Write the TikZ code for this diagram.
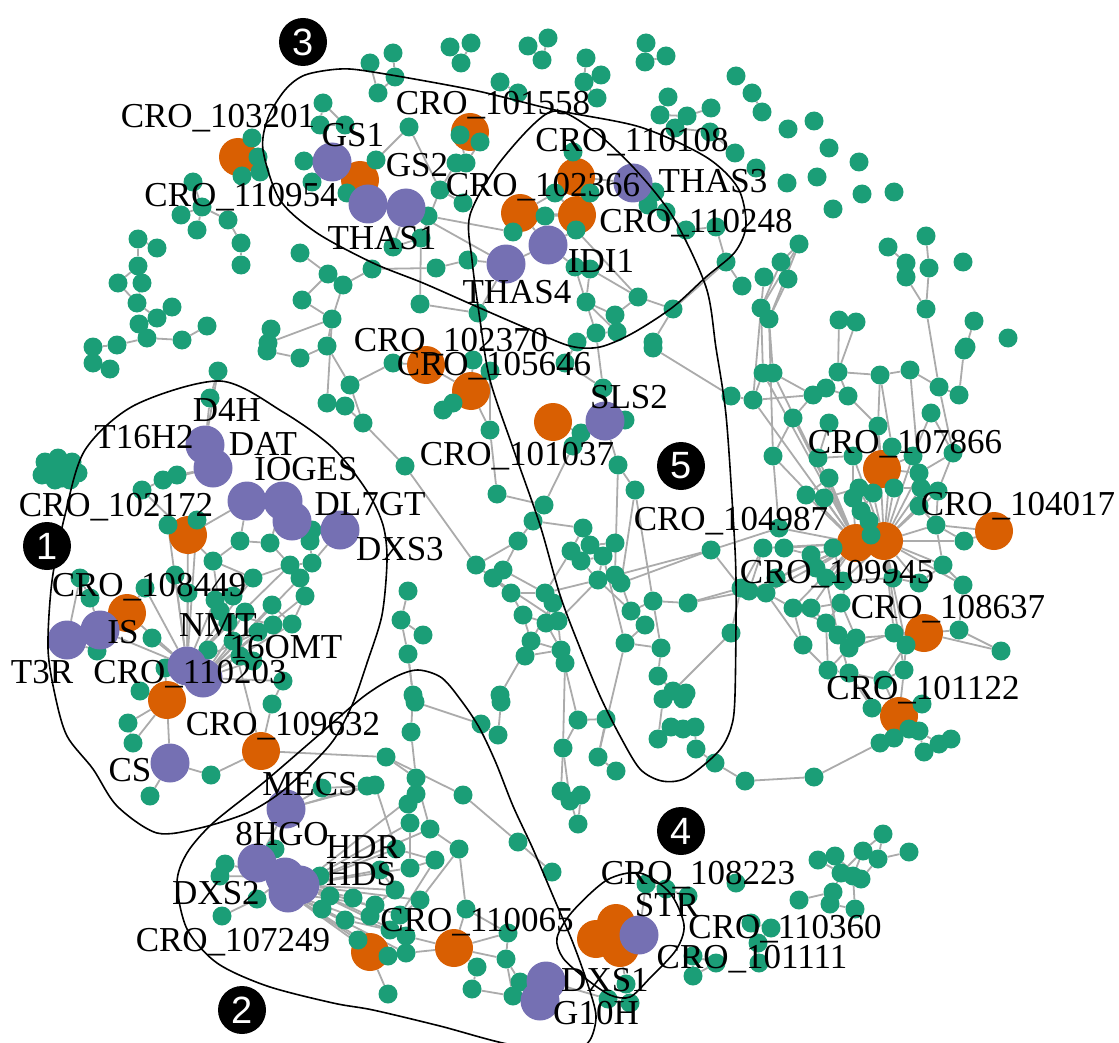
\documentclass[tikz,border=0pt]{standalone}
\usepackage{fontspec}
\setmainfont{Liberation Serif}
\newfontfamily\badgefont{Liberation Sans}
\definecolor{cgrn}{HTML}{1B9E77}
\definecolor{corg}{HTML}{D95F02}
\definecolor{cpur}{HTML}{7570B3}
\definecolor{cedg}{HTML}{ABABAB}
\pgfdeclarelayer{bg}
\pgfsetlayers{bg,main}
\begin{document}
\begin{tikzpicture}[x=1pt,y=-1pt,
 gnode/.style={circle,fill=cgrn,minimum size=19pt,inner sep=0pt},
 onode/.style={circle,fill=corg,minimum size=38pt,inner sep=0pt},
 pnode/.style={circle,fill=cpur,minimum size=39pt,inner sep=0pt},
 lnk/.style={draw=cedg,line width=1.8pt},
 hull/.style={draw=black,line width=1.6pt},
 lab/.style={font=\fontsize{35}{40}\selectfont,anchor=base,inner sep=0pt},
 badge/.style={circle,fill=black,minimum size=48pt,inner sep=0pt,text=white,font=\badgefont\fontsize{38}{38}\selectfont}]
\useasboundingbox (0,0) rectangle (1119,1043);
\def\greenlist{1/370/63, 2/378/93, 3/323/103, 4/320/125, 5/345/125, 6/252/138, 7/258/157, 8/260/172, 9/242/176, 10/304/161, 11/312/182, 12/347/193, 13/193/182, 14/202/207, 15/181/215, 16/197/230, 17/228/220, 18/241/243, 19/241/265, 20/138/239, 21/157/248, 22/138/266, 23/118/283, 24/142/283, 25/137/303, 26/172/307, 27/157/318, 28/139/324, 29/147/338, 30/182/340, 31/207/326, 32/117/345, 33/93/347, 34/300/253, 35/328/274, 36/343/285, 37/372/269, 38/302/300, 39/332/319, 40/271/329, 41/268/343, 42/327/346, 43/93/363, 44/110/369,
45/393/53, 46/395/77, 48/450/47, 49/471/43, 50/461/63, 51/528/46, 52/548/38, 53/542/60, 54/500/82, 55/518/93, 56/586/58, 57/601/75, 58/584/82, 59/597/98, 60/646/43, 61/666/56, 62/645/62, 63/736/76, 64/668/97, 65/660/115, 66/687/116, 67/711/108, 68/675/128, 69/710/132, 70/735/153, 71/409/127, 72/376/160, 73/460/135, 74/480/142, 75/466/163, 76/456/163, 77/440/190, 78/428/216, 79/463/203, 80/393/247, 81/421/238, 82/436/268, 83/468/260, 84/420/304, 85/478/313, 86/513/232, 87/545/216, 88/555/193, 89/573/152, 90/590/193, 91/576/230, 92/575/267, 93/590/269, 94/655/192, 95/648/205, 96/666/212, 97/686/230, 98/716/227, 99/726/262, 100/742/286, 101/638/297, 102/586/302, 103/615/315, 104/617/332, 105/596/333, 106/673/309, 107/577/342, 108/653/342,
109/752/93, 110/762/112, 111/788/129, 112/814/121, 113/829/148, 114/859/162, 115/756/168, 116/787/183, 117/817/177, 118/862/194, 119/894/192, 120/833/209, 121/799/244, 122/781/262, 123/764/277, 124/788/279, 126/761/308, 127/769/319, 128/839/320, 129/856/322, 130/888/247, 131/926/236, 132/906/263, 133/929/268, 134/906/277, 135/963/262, 136/926/309, 137/974/321, 138/966/347, 139/1008/338,
140/218/371, 141/210/398, 142/45/462, 143/58/458, 144/72/462, 145/78/473, 146/70/480, 147/55/480, 148/42/475, 149/60/470, 196/50/468, 197/66/468, 198/62/478, 150/163/480, 151/177/475, 152/142/490, 153/168/525, 154/197/520, 155/240/541, 156/270/543, 157/213/561, 158/253/578, 159/290/565, 160/312/563, 161/300/578, 162/305/596, 163/312/530, 164/310/541, 165/272/605, 166/292/624, 167/273/625, 168/220/611, 169/233/596, 170/175/575, 171/188/593, 172/145/588, 173/152/638, 174/90/598, 175/80/578, 176/97/651, 177/208/650, 178/233/641, 179/253/661, 180/283/681, 181/140/691, 182/165/668, 183/350/385, 184/327/403, 185/345/406, 186/363/423, 187/300/358, 188/267/351, 191/228/622, 192/245/612, 193/258/632, 194/215/600, 195/240/656,
200/393/363, 201/473/360, 202/490/371, 203/565/363, 204/443/410, 205/453/403, 206/490/430, 207/405/466, 208/603/388, 209/625/420, 210/581/433, 211/573/446, 212/618/465, 213/635/490, 214/653/348, 215/731/396, 216/497/494, 217/544/505, 218/533/521, 219/518/541, 220/583/528, 221/571/551, 222/590/545, 223/615/543, 224/603/556, 225/581/561, 226/476/565, 227/503/570, 228/493/578, 229/598/580, 230/615/575, 231/621/583, 232/711/550, 233/511/593, 234/545/593, 235/553/603, 236/523/615, 237/546/623, 238/558/621, 239/631/611, 240/653/601, 241/645/625, 242/688/603, 243/741/588, 244/731/633, 245/531/641, 246/525/656, 247/561/650, 248/565/663, 249/625/643, 250/661/648, 251/658/676, 252/673/691, 253/686/693, 254/408/591, 255/401/620, 256/423/635, 257/408/654, 258/413/695, 259/500/695,
260/964/350, 261/763/373, 262/773/373, 263/838/372, 264/880/375, 265/910/370, 266/939/387, 267/959/395, 268/931/413, 269/753/400, 270/813/395, 271/826/388, 272/848/396, 273/793/418, 274/878/426, 275/829/423, 276/773/456, 277/818/458, 278/853/456, 279/892/447, 280/913/456, 281/953/453, 282/829/478, 283/806/495, 284/824/498, 285/859/488, 286/873/493, 287/853/498, 288/894/488, 289/919/473, 290/921/488, 291/938/491, 292/919/506, 293/861/511, 294/869/521, 295/936/525, 296/871/535, 297/964/541, 298/943/565, 299/963/585, 300/779/528, 301/763/548, 302/784/548, 303/811/555, 304/833/548, 305/816/568, 306/826/578, 307/843/581, 308/893/578, 309/919/583, 310/749/591, 311/766/593, 312/793/608, 313/811/608, 314/841/603, 315/826/623, 316/838/635, 317/856/638, 318/849/648, 319/894/633, 320/906/645, 321/959/630, 322/1001/651, 323/803/645, 324/828/670, 325/849/673, 326/883/680, 327/904/670, 328/776/578,
330/128/723, 331/133/743, 332/150/796, 333/211/775, 334/272/704, 335/322/788, 336/367/786, 337/275/849, 338/225/864, 339/220/876, 340/222/916, 341/257/899, 342/320/876, 343/330/896, 344/322/909, 345/353/898, 346/370/916, 347/358/940,
350/415/702, 351/501/702, 352/411/732, 353/481/724, 354/498/735, 355/386/757, 356/416/778, 357/416/794, 358/408/804, 359/375/785, 360/463/795, 361/410/823, 362/430/829, 363/459/849, 364/435/860, 365/410/868, 366/396/849, 367/518/842, 368/552/872, 369/466/909, 370/508/933, 371/506/959, 372/477/967, 373/472/989, 374/513/996, 375/520/982, 376/388/994, 377/388/956, 378/406/953, 379/406/936, 380/563/748, 381/578/720, 382/606/719, 383/598/757, 384/616/771, 385/561/791, 386/570/801, 387/581/795, 388/578/824, 389/663/699, 390/683/699, 391/658/739, 392/671/727, 393/683/729, 394/695/727, 395/696/749, 396/715/763, 397/745/781, 398/608/999, 399/630/1003, 400/626/984, 401/646/884, 402/666/889, 403/688/896, 404/736/883, 405/693/956, 406/716/963, 407/693/976, 408/380/870, 409/395/890, 410/375/905, 411/400/915, 412/420/900, 413/345/920, 414/390/930,
420/872/708, 421/922/704, 422/894/738, 423/880/743, 424/909/729, 425/919/731, 426/939/744, 427/951/739, 428/924/752, 429/814/777, 431/883/834, 432/909/852, 433/863/851, 434/878/859, 435/818/860, 436/835/856, 437/841/873, 438/853/876, 439/861/879, 440/833/892, 441/799/900, 442/830/904, 443/855/909, 444/771/928, 445/751/923, 446/758/943, 447/759/963}
\def\orglist{oA/238/157, oB/360/180, oC/470/132, oD/576/177, oE/520/213, oF/577/215, oG/426/365, oH/471/391, oI/553/422, oJ/188/535, oK/127/613, oL/167/700, oM/261/751, oN/882/469, oO/994/531, oP/856/543, oQ/884/541, oR/924/633, oS/899/716, oT/370/952, oU/454/948, oV/616/923, oW/596/939, oX/620/948}
\def\purlist{pGS1/332/162, pGS2/368/204, pTHAS1/406/208, pTHAS3/633/183, pIDI1/548/245, pTHAS4/506/264, pSLS2/605/421, pD4H/205/445, pDAT/213/468, pIOGES/247/501, pX/283/501, pDL7GT/292/521, pDXS3/340/530, pT3R/67/640, pIS/100/630, pNMT/187/666, p16OMT/203/678, pCS/170/763, pMECS/286/809, p8HGO/257/863, pDXS2/285/877, pHDR/300/885, pHDS/288/893, pSTR/639/935, pDXS1/546/981, pG10H/540/1001}
% nodes
\foreach \n/\x/\y in \orglist {\node[onode] (\n) at (\x,\y) {};}
\foreach \i/\x/\y in \greenlist {\node[gnode] (g\i) at (\x,\y) {};}
\foreach \n/\x/\y in \purlist {\node[pnode] (\n) at (\x,\y) {};}
% edges
\begin{pgfonlayer}{bg}
\foreach \a/\b in {g3/g5, g4/g5, g3/g4, oA/g6, oA/g7, oA/g8, oA/g9, g7/g8, g10/pGS1, g11/pGS1, g4/pGS1, g12/oB, oB/pGS2, pGS1/oB,
g13/g14, g14/g15, g14/g16, g14/g17, g17/g18, g18/g19,
g20/g21, g20/g22, g22/g23, g22/g24, g23/g25, g24/g25, g25/g27, g26/g27, g27/g28, g28/g29, g29/g30, g30/g31, g29/g32, g32/g33, g33/g43, g43/g44,
g34/g35, g35/g36, g35/g38, g36/g37, g38/g39, g36/g39, g39/g42, g40/g41, g41/g39, g42/g183, g39/g184, g187/g188, g187/g42,
g45/g46, g46/g2, g1/g2, g48/g50, g49/g50, g51/g53, g52/g53, g54/g55, g56/g58, g57/g58, g58/g59, g60/g62, g61/g62, g64/g65, g65/g66, g66/g67, g66/g68, g68/g69, g69/g70,
g71/g72, g71/g77, g72/pGS2, g73/g75, g74/g75, g75/g76, g74/oC, g76/g77, g77/g79, g77/g81, g81/g84, g80/g81, pTHAS1/g78, g78/g86, g86/g87, g87/oE, g87/oF, g88/oE, g88/oF, g89/g90, g90/oF, oD/oF, oE/oF, g91/pIDI1, pIDI1/g92, g92/g93, g92/g102, g93/g102, g102/g103, g102/g104, g103/g104, g104/g105, g105/g107, g102/g105, g37/g82, g82/g83, g83/pTHAS4, pTHAS4/pIDI1, pTHAS1/pTHAS4, pTHAS1/g80, pTHAS3/g94, g94/g95, g95/g96, g96/g97, g97/g98, g98/g99, g99/g100, g101/g103, g101/g106, g106/g108, g99/g106, pTHAS4/g85, g84/g85, pIDI1/oE, pTHAS3/oD, g91/g101, g93/g101,
g109/g110, g121/g122, g121/g126, g121/g127, g122/g126, g124/g127, g123/g126, g128/g263, g129/g263, g130/g132, g131/g133, g132/g134, g133/g136, g134/g136, g136/g266, g137/g138, g138/g260, g126/g261, g127/g262, g126/g269, g127/g276}
  \draw[lnk] (\a) -- (\b);
\foreach \a/\b in {g140/g141, g141/pD4H, g140/pD4H, pD4H/pDAT, pDAT/g150, g150/g151, g150/g152, g151/pDAT, g152/oJ, g153/oJ, g154/oJ, oJ/pIOGES, g155/g156, g156/pX, g157/g158, g158/g159, g159/g160, g160/g161, g161/g162, g163/g164, g164/g160, g163/pDXS3, g164/pDL7GT, g155/g157, g157/g168, g168/g169, g169/g158, g165/g166, g165/g167, g167/g168, g166/g162, g170/g171, g171/pNMT, g172/pNMT, g172/oK, oK/pIS, pIS/pT3R, g174/g175, g174/pIS, g176/pT3R, g173/pNMT, pNMT/p16OMT, g177/pNMT, g178/p16OMT, g179/p16OMT, g180/p16OMT, g181/oL, g182/oL, oL/pNMT, g191/pNMT, g192/p16OMT, g193/p16OMT, g194/pNMT, g195/p16OMT, oJ/pNMT, g153/pNMT, g170/pNMT, g162/p16OMT, g165/p16OMT, g167/pNMT, g166/p16OMT, oK/pNMT, g159/pNMT, g161/p16OMT, g158/pNMT, g154/pNMT, g184/g185, g185/g186, g183/g186, g186/g207, g183/g200, g156/g159, pDXS3/g160, pIS/pNMT, pT3R/g175, oJ/g157, g155/pIOGES,
g200/oG, g201/oH, g202/oH, g204/oH, g205/oH, g204/g205, g206/oH, g206/g202, oG/oH, g207/g226, g208/pSLS2, g209/pSLS2, g210/pSLS2, g211/g210, oI/g210, g212/pSLS2, g213/g212, g203/g208, g107/g203, g105/g208, g216/g217, g217/g218, g218/g219, g219/g226, g218/g220, g220/g221, g220/g222, g222/g223, g223/g224, g221/g225, g224/g225, g222/g224, g219/g227, g227/g228, g228/g233, g229/g230, g230/g231, g229/g224, g231/g232, g232/g243, g233/g234, g234/g235, g233/g236, g235/g237, g236/g237, g237/g238, g238/g229, g239/g240, g240/g242, g239/g241, g241/g249, g242/g243, g243/g244, g245/g246, g245/g247, g246/g247, g247/g248, g249/g250, g250/g251, g251/g252, g252/g253, g240/g250, g213/g240, g255/g256, g255/g257, g257/g258, g254/g255, g229/g232, g232/g300, g242/g310, g243/g301, g215/g269, g214/g215, g216/g206, g234/g229, g227/g234, g228/g238, g226/g233, g225/g229, g236/g245, g237/g247, g238/g247, g229/g239, g231/g239, g213/g231, g211/g217, g221/g234, g235/g245, g224/g249, g248/g380, g244/g252, g212/g230}
  \draw[lnk] (\a) -- (\b);
\foreach \b in {g261,g262,g269,g276,g282,g283,g284,g300,g301,g302,g303,g304,g305,g306,g310,g311,g312,g313,g314,g328,g273,g277,g287}
  \draw[lnk] (oP) -- (\b);
\foreach \b in {g285,g286,g287,g288,g289,g290,g292,g293,g294,g295,g296,g297,g307,g308,g309,g319,g320,g327,g274,g279,g278,g291,g280}
  \draw[lnk] (oQ) -- (\b);
\foreach \a/\b in {g263/g264, g264/g265, g265/g266, g266/g267, g266/g281, g268/g281, g260/g267, g271/g272, g270/g273, g273/g276, g275/g277, g277/g278, g278/g287, g279/g280, g281/g289, g291/g295, g295/g297, g297/oO, g298/g299, g299/g321, g298/g295, g321/g322, g319/oR, g320/oR, oR/g322, oR/g321, g323/g324, g324/g325, g325/g326, g326/g327, g327/g320, g315/g316, g316/g317, g317/g318, g318/g324, g312/g315, g313/g316, g314/g317, g327/oS, g326/oS, g325/g420, g264/g274, g263/g272, g272/g274, g274/oN, g279/oN, g280/oN, g289/oN, g264/g279, g265/g289, g268/g280, g270/g271, g269/g270, g261/g269, g262/g270, g263/g271, g276/g300, g282/g283, g284/g285, g286/g293, g293/g294, g294/g296, g296/oP, g288/g290, g290/g292, g292/g295, g295/oO, g298/oQ, g299/oQ, g308/g309, g309/g298, g307/g308, g303/g305, g305/g306, g306/g307, g310/g311, g311/g312, g312/g313, g313/g314, g314/g315, g323/g312, g323/g311, g315/g324, g316/g325, g318/g319, g319/g320, g320/g326, g317/oR, g306/g316, g301/g310, g302/g303, g304/g307, g288/oN, g281/g291, oP/oQ,
g420/oS, g421/oS, oS/g422, oS/g423, oS/g424, oS/g425, g422/g423, g424/g425, g425/g426, g426/g427, g425/g428, g428/g426, g423/g429, g429/g397, g395/g396, g396/g397, g394/g395, g431/g433, g432/g434, g433/g434, g435/g436, g436/g437, g437/g438, g438/g439, g439/g434, g433/g437, g440/g437, g441/g440, g442/g440, g443/g438, g442/g443, g431/g434, g433/g438, g444/g445, g445/g446, g446/g447, g444/g446, g436/g439, g435/g437,
oL/g330, oL/g331, g330/g331, oL/pCS, pCS/g332, pCS/g333, g333/oM, g334/g180, oM/g334, oM/g178, pMECS/g335, g335/g336, pMECS/p8HGO, p8HGO/g337, g338/pDXS2, g339/pDXS2, g340/g341, g341/pDXS2, g342/pHDR, g343/pHDR, g344/pHDS, g345/pHDR, pHDR/g408, pHDR/g409, pHDS/g410, pHDR/g411, pHDR/g412, pHDS/g413, pHDS/g414, pHDS/g378, pHDR/g379, pHDS/g377, pHDS/oT, pHDR/g346, pHDS/g347, pHDR/g366, pHDR/g365, p8HGO/pDXS2, pDXS2/pHDR, pHDR/pHDS, oM/g355, g355/g360, pMECS/g336,
g257/g258, g258/g352, g352/g356, g356/g357, g357/g358, g358/g361, g361/g365, g350/g258, g351/g354, g353/g354, g355/g356, g360/g367, g367/g368, g362/g363, g363/g369, g364/g365, g366/g364, g362/pHDR, g361/pHDR, g357/pHDR, g356/g362, oU/g369, oU/g370, oU/g371, g370/g371, g371/g374, g372/g373, g373/g374, g374/g375, g375/pDXS1, g371/g375, g369/g370, oU/g372, oT/g376, oT/g377, oU/g378, oT/g378, g379/oU, g380/g381, g381/g382, g382/g383, g380/g385, g380/g386, g383/g384, g385/g386, g385/g387, g386/g388, g387/g388, g389/g390, g391/g392, g392/g393, g393/g394, g391/g389, g389/g252, g390/g253, pSTR/oV, pSTR/oX, oV/oW, g398/g399, g398/pDXS1, g400/oX, g401/g402, g402/g403, g401/pSTR, g405/g406, g405/g407, g406/g407, pDXS1/pG10H, g408/g409, g409/g410, g411/g412, g413/g414, g363/g412, g364/g411, g359/g366, g359/pMECS, g350/g353, g351/g259, g259/g245, g247/g381, g383/g249}
  \draw[lnk] (\a) -- (\b);
\end{pgfonlayer}
% hulls
\draw[hull] plot[smooth cycle] coordinates {(263,150) (268,118) (285,90) (305,75) (340,69) (373,72) (473,90) (555,110) (640,127) (706,157) (738,188) (746,225) (735,252) (706,277) (673,307) (633,333) (600,347) (570,346) (526,328) (473,305) (423,283) (373,263) (317,233) (280,200)};
\draw[hull] plot[smooth cycle] coordinates {(550,112) (590,128) (633,167) (673,217) (706,287) (716,348) (726,415) (733,515) (736,581) (735,695) (731,728) (718,752) (686,778) (662,781) (640,769) (620,736) (600,696) (580,648) (560,595) (540,525) (513,448) (490,380) (480,320) (472,260) (470,215) (500,162)};
\draw[hull] plot[smooth cycle] coordinates {(220,381) (283,412) (333,448) (367,491) (383,525) (387,560) (382,615) (367,663) (353,703) (335,738) (313,763) (280,793) (247,813) (200,828) (157,833) (117,806) (93,769) (67,736) (55,695) (48,648) (52,581) (65,515) (85,450) (135,405)};
\draw[hull] plot[smooth cycle] coordinates {(418,670) (442,678) (463,703) (480,729) (496,763) (513,806) (533,849) (553,896) (573,943) (588,985) (596,1016) (590,1040) (575,1047) (513,1045) (440,1026) (373,1010) (333,1003) (267,986) (217,963) (187,929) (177,883) (187,853) (213,823) (263,783) (313,740) (363,697) (395,677)};
\draw[hull] plot[smooth cycle] coordinates {(607,880) (640,873) (670,893) (684,925) (676,950) (650,978) (630,997) (610,995) (585,978) (563,958) (557,938) (572,912)};
% labels
\foreach \t/\x/\y [count=\k] in {CRO\_103201/218/128, CRO\_110954/241/207, GS1/353/147, GS2/417/177, THAS1/382/250, CRO\_101558/493/115, CRO\_110108/632/152, CRO\_102366/543/197, THAS3/713/193, CRO\_110248/696/233, IDI1/601/272, THAS4/517/303, CRO\_102370/451/351, CRO\_105646/494/375, CRO\_101037/517/465, SLS2/629/408, CRO\_104987/731/530, CRO\_107866/905/453, CRO\_104017/1018/515, CRO\_109945/837/583, CRO\_108637/948/618, CRO\_101122/923/699, D4H/227/421, T16H2/144/448, DAT/263/455, IOGES/306/480, DL7GT/370/515, DXS3/400/560, CRO\_102172/116/516, CRO\_108449/149/596, IS/123/643, NMT/218/636, 16OMT/286/658, T3R/42/683, CRO\_110203/190/683, CRO\_109632/283/735, CS/130/781, MECS/310/795, 8HGO/282/845, HDR/363/858, HDS/361/885, DXS2/216/904, CRO\_107249/233/951, CRO\_110065/477/931, STR/667/916, CRO\_108223/698/884, CRO\_110360/785/938, CRO\_101111/752/968, DXS1/605/991, G10H/596/1024}
  \node[lab] (lab\k) at (\x,\y) {\t};
% badges
\node[badge] (b1) at (47,546) {1};
\node[badge] (b2) at (242,1010) {2};
\node[badge] (b3) at (303,42) {3};
\node[badge] (b4) at (681,831) {4};
\node[badge] (b5) at (681,466) {5};
\end{tikzpicture}
\end{document}
